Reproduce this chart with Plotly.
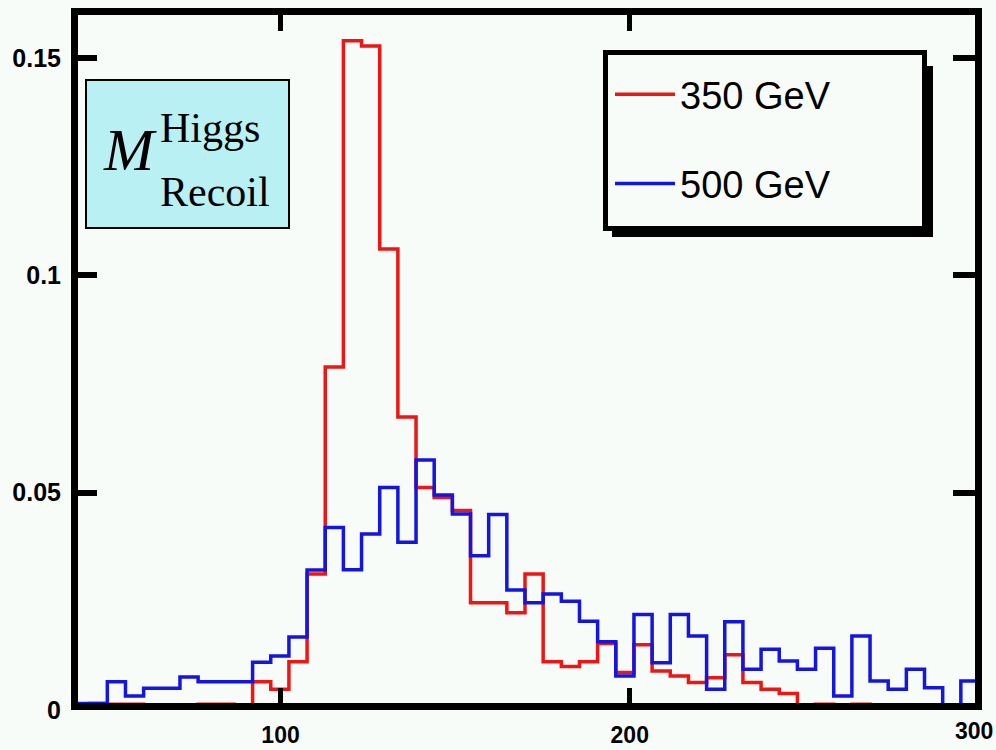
import plotly.graph_objects as go

# ---- data ----
x_lo, x_hi, n_bins = 40.0, 300.0, 50
bin_edges = [x_lo + i * (x_hi - x_lo) / n_bins for i in range(n_bins + 1)]

red_350 = [0.0, 0.0015, 0.0013, 0.0013, 0.0, 0.0, 0.0, 0.0013, 0.0013, 0.0,
           0.0065, 0.0048, 0.0111, 0.0313, 0.0789, 0.1540, 0.1528, 0.1061, 0.0674, 0.0512,
           0.0489, 0.0459, 0.0247, 0.0247, 0.0224, 0.0313, 0.0111, 0.0100, 0.0111, 0.0153,
           0.0086, 0.0150, 0.0090, 0.0078, 0.0063, 0.0074, 0.0127, 0.0063, 0.0048, 0.0038,
           0.0, 0.0013, 0.0, 0.0013, 0.0, 0.0, 0.0, 0.0, 0.0, 0.0]

blue_500 = [0.0015, 0.0015, 0.0065, 0.0032, 0.0050, 0.0050, 0.0076, 0.0065, 0.0065, 0.0065,
            0.0110, 0.0124, 0.0168, 0.0322, 0.0420, 0.0323, 0.0405, 0.0512, 0.0386, 0.0575,
            0.0495, 0.0451, 0.0355, 0.0450, 0.0276, 0.0247, 0.0267, 0.0250, 0.0204, 0.0157,
            0.0078, 0.0220, 0.0109, 0.0220, 0.0170, 0.0048, 0.0203, 0.0094, 0.0140, 0.0113,
            0.0094, 0.0142, 0.0032, 0.0170, 0.0067, 0.0048, 0.0094, 0.0051, 0.0, 0.0067]

series_names = ["350 GeV", "500 GeV"]
x_tickvals = [100, 200, 300]
x_ticktext = ["100", "200", "300"]
y_tickvals = [0, 0.05, 0.1, 0.15]
y_ticktext = ["0", "0.05", "0.1", "0.15"]
y_max = 0.1613

# ---- layout geometry (pixels) ----
W, H = 996, 750
ML, MR, MT, MB = 71, 17, 9, 40
PW, PH = W - ML - MR, H - MT - MB
BG = "#f8fcf8"


def pxx(px):
    return (px - ML) / PW


def pxy(py):
    return (H - MB - py) / PH


def step(vals):
    return bin_edges, list(vals) + [vals[-1]]


fig = go.Figure()
for name, vals, col, grp in [(series_names[0], red_350, "#ee1515", "a"),
                             (series_names[1], blue_500, "#1515e0", "b")]:
    xs, ys = step(vals)
    fig.add_trace(go.Scatter(x=xs, y=ys, mode="lines", name=name,
                             legendgroup=grp,
                             line=dict(color=col, width=3.5, shape="hv")))

axis_common = dict(showgrid=False, zeroline=False, showline=False,
                   mirror="ticks", ticks="inside", tickcolor="black",
                   ticklabeloverflow="allow", automargin=False)

xtick_font = dict(family="Liberation Sans", size=23, color="black", weight="bold")
# the last x label sits at the very edge of the page: it is drawn as an
# annotation pulled just inside the page so it is not clipped
fig.update_xaxes(range=[x_lo, x_hi], tickvals=x_tickvals,
                 ticktext=x_ticktext[:-1] + [""],
                 ticklen=22, tickwidth=5, ticklabelstandoff=9,
                 tickfont=xtick_font, **axis_common)
fig.update_yaxes(range=[0, y_max], tickvals=y_tickvals, ticktext=y_ticktext,
                 ticklen=26, tickwidth=6, ticklabelstandoff=9,
                 tickfont=dict(family="Liberation Sans", size=25, color="black",
                               weight="bold"),
                 **axis_common)
fig.add_annotation(xref="paper", yref="paper", x=pxx(995), y=pxy(716),
                   xanchor="right", yanchor="top", showarrow=False,
                   text=x_ticktext[-1], font=xtick_font)

# thick frame
fig.add_shape(type="rect", xref="paper", yref="paper",
              x0=pxx(74.5), x1=pxx(978.5), y0=pxy(706.5), y1=pxy(11.5),
              line=dict(color="black", width=7), fillcolor="rgba(0,0,0,0)",
              layer="above")

# Label box  M^Higgs_Recoil
fig.add_shape(type="rect", xref="paper", yref="paper",
              x0=pxx(86), x1=pxx(289), y0=pxy(228), y1=pxy(80),
              fillcolor="#b8f0f4", line=dict(color="black", width=2), layer="above")
fig.add_annotation(xref="paper", yref="paper", x=pxx(101), y=pxy(150),
                   xanchor="left", yanchor="middle", showarrow=False,
                   text="<i>M</i>",
                   font=dict(family="Liberation Serif", size=60, color="black"))
fig.add_annotation(xref="paper", yref="paper", x=pxx(158), y=pxy(128),
                   xanchor="left", yanchor="middle", showarrow=False,
                   text="Higgs",
                   font=dict(family="Liberation Serif", size=42, color="black"))
fig.add_annotation(xref="paper", yref="paper", x=pxx(158), y=pxy(192),
                   xanchor="left", yanchor="middle", showarrow=False,
                   text="Recoil",
                   font=dict(family="Liberation Serif", size=42, color="black"))

# legend frame with shadow
fig.add_shape(type="rect", xref="paper", yref="paper",
              x0=pxx(612), x1=pxx(933), y0=pxy(237), y1=pxy(66),
              fillcolor="black", line=dict(width=0), layer="above")
fig.add_shape(type="rect", xref="paper", yref="paper",
              x0=pxx(605.5), x1=pxx(924.5), y0=pxy(228.5), y1=pxy(52.5),
              fillcolor=BG, line=dict(color="black", width=5), layer="above")

fig.update_layout(
    width=W, height=H,
    margin=dict(l=ML, r=MR, t=MT, b=MB, autoexpand=False),
    paper_bgcolor=BG, plot_bgcolor=BG,
    showlegend=True,
    legend=dict(x=pxx(610), y=pxy(63), xanchor="left", yanchor="top",
                bgcolor="rgba(0,0,0,0)", borderwidth=0,
                font=dict(family="Liberation Sans", size=38, color="black"),
                itemwidth=60, tracegroupgap=37, traceorder="grouped"),
)

fig.write_html("out.html")
